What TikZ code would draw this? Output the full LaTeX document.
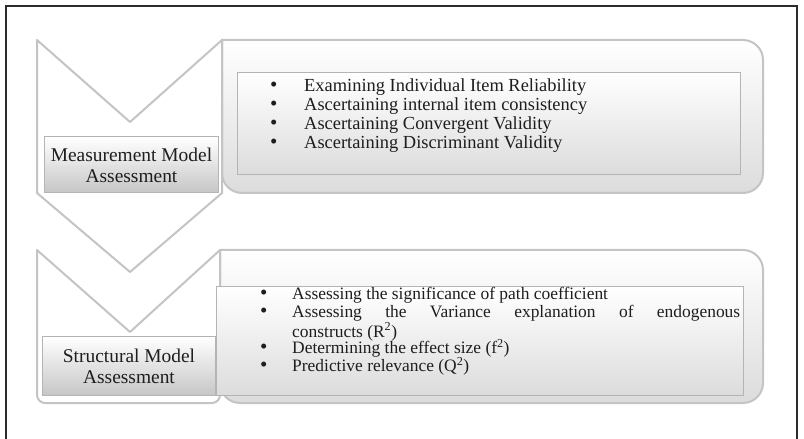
\documentclass[tikz,border=0pt]{standalone}
\usepackage{fontspec}
\setmainfont{Liberation Serif}
\definecolor{edgegray}{HTML}{C4C4C4}
\definecolor{boxedge}{HTML}{B4B4B4}
\definecolor{shadegray}{HTML}{C6C6C6}
\definecolor{panelgray}{HTML}{DCDCDC}
\definecolor{framegray}{HTML}{2B2B2B}
\definecolor{inkgray}{HTML}{1E1E1E}
% bullet item with hanging indent
\newcommand{\stepitem}[2]{\hangindent=#1\hangafter=1\noindent\makebox[#1][l]{\fontsize{21}{18}\selectfont\textbullet}#2\par}
\tikzset{
    arrowshape/.style={draw=edgegray, line width=2bp, fill=white, line join=round},
    panelbox/.style={draw=edgegray, line width=2bp, top color=white, bottom color=panelgray},
    listbox/.style={draw=boxedge, line width=1bp, top color=white, bottom color=panelgray, inner sep=0pt},
    stagebox/.style={draw=boxedge, line width=1bp, top color=white, bottom color=shadegray, inner sep=0pt, align=center, text=inkgray, font=\fontsize{19.5}{21}\selectfont},
    itemtext/.style={anchor=base west, inner sep=0pt, text width=#1, align=justify, text=inkgray}
}
\begin{document}
\begin{tikzpicture}[x=1bp, y=-1bp]
        \useasboundingbox (0,0) rectangle (804,439);
        % outer frame
        \draw[framegray, line width=1.3bp] (6,445) -- (6,6) -- (797,6) -- (797,445);
        % rounded panels
        \draw[panelbox] (222,40) [rounded corners=20bp] -- (763,40) -- (763,193) -- (222,193) [sharp corners] -- cycle;
        \draw[panelbox] (220,250) [rounded corners=20bp] -- (763,250) -- (763,403) -- (220,403) [sharp corners] -- cycle;
        % chevrons
        \draw[arrowshape] (37,40) -- (130,122) -- (222,40) -- (222,193) -- (130,272) -- (37,193) -- cycle;
        \draw[arrowshape] (37,250) -- (130,332) -- (220,250) [rounded corners=8bp] -- (220,403) -- (37,403) [sharp corners] -- cycle;
        % inner list boxes
        \node[listbox, minimum width=503bp, minimum height=102bp] (list1) at (488.5,124) {};
        \node[listbox, minimum width=526bp, minimum height=108bp] (list2) at (480,341) {};
        % stage labels
        \node[stagebox, minimum width=173bp, minimum height=56bp] (measure) at (131.5,165) {Measurement Model\\Assessment};
        \node[stagebox, minimum width=172bp, minimum height=58bp] (struct) at (129,366) {Structural Model\\Assessment};
        % first list
        \begin{scope}[font=\fontsize{18.5}{19}\selectfont]
        \foreach \y/\txt [count=\i] in {91.7/{Examining Individual Item Reliability},
                111/{Ascertaining internal item consistency},
                130/{Ascertaining Convergent Validity},
                148.3/{Ascertaining Discriminant Validity}}
            \node[itemtext=464bp] (mi\i) at (270,\y) {\stepitem{34bp}{\txt}};
        \end{scope}
        % second list
        \begin{scope}[font=\fontsize{17.5}{18}\selectfont]
        \foreach \y/\txt [count=\i] in {300/{Assessing the significance of path coefficient},
                318/{Assessing the Variance explanation of endogenous\linebreak constructs (R\textsuperscript{2})},
                354/{Determining the effect size (f\textsuperscript{2})},
                372/{Predictive relevance (Q\textsuperscript{2})}}
            \node[itemtext=480bp] (si\i) at (260,\y) {\stepitem{32bp}{\txt}};
        \end{scope}
    \end{tikzpicture}
\end{document}
